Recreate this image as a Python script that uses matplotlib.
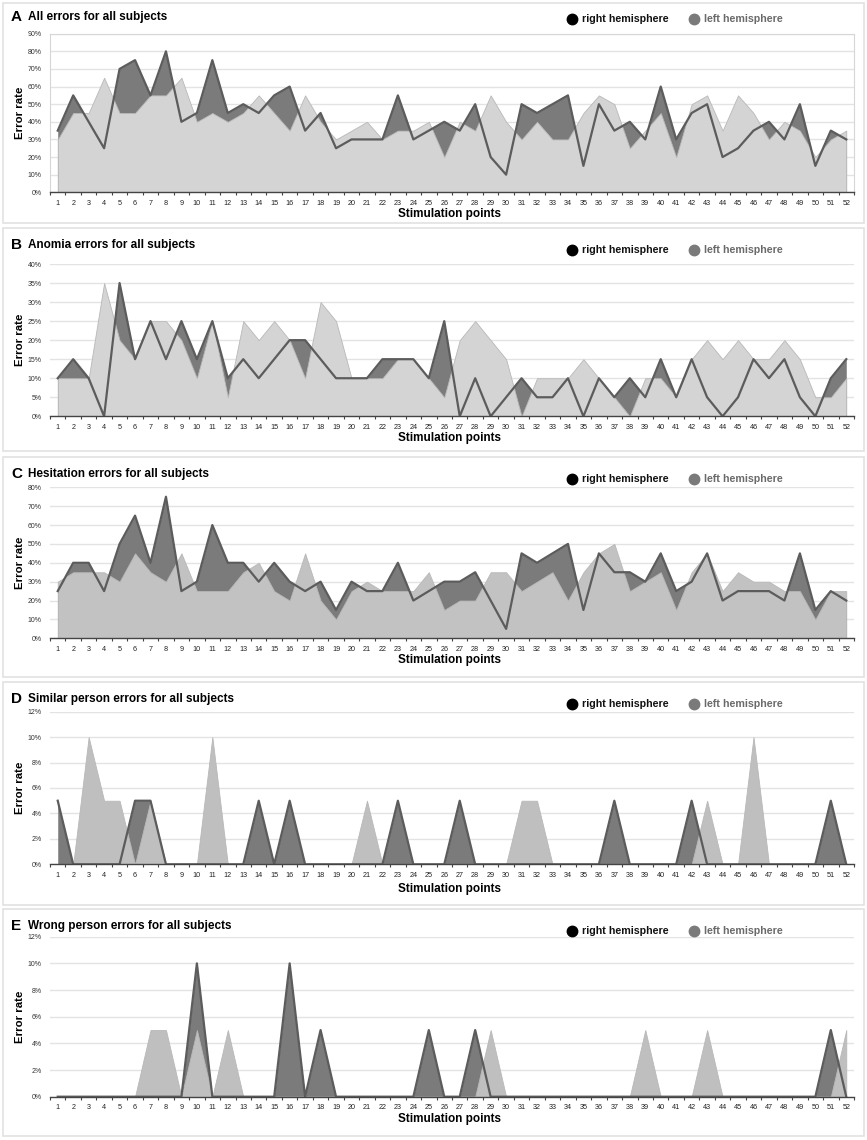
import numpy as np
import matplotlib
matplotlib.use("Agg")
import matplotlib.pyplot as plt
from matplotlib.patches import Rectangle
from matplotlib.lines import Line2D
from matplotlib.ticker import FixedLocator, FuncFormatter

plt.rcParams['font.family'] = ['Liberation Sans', 'DejaVu Sans']

points = np.arange(1, 53)

# error rates in %, one value per stimulation point
right_all = [35, 55, 40, 25, 70, 75, 55, 80, 40, 45, 75, 45, 50, 45, 55, 60, 35, 45, 25, 30,
             30, 30, 55, 30, 35, 40, 35, 50, 20, 10, 50, 45, 50, 55, 15, 50, 35, 40, 30, 60,
             30, 45, 50, 20, 25, 35, 40, 30, 50, 15, 35, 30]
left_all = [30, 45, 45, 65, 45, 45, 55, 55, 65, 40, 45, 40, 45, 55, 45, 35, 55, 40, 30, 35,
            40, 30, 35, 35, 40, 20, 40, 35, 55, 40, 30, 40, 30, 30, 45, 55, 50, 25, 35, 45,
            20, 50, 55, 35, 55, 45, 30, 40, 35, 20, 30, 35]

right_anomia = [10, 15, 10, 0, 35, 15, 25, 15, 25, 15, 25, 10, 15, 10, 15, 20, 20, 15, 10, 10,
                10, 15, 15, 15, 10, 25, 0, 10, 0, 5, 10, 5, 5, 10, 0, 10, 5, 10, 5, 15,
                5, 15, 5, 0, 5, 15, 10, 15, 5, 0, 10, 15]
left_anomia = [10, 10, 10, 35, 20, 15, 25, 25, 20, 10, 25, 5, 25, 20, 25, 20, 10, 30, 25, 10,
               10, 10, 15, 15, 10, 5, 20, 25, 20, 15, 0, 10, 10, 10, 15, 10, 5, 0, 10, 10,
               5, 15, 20, 15, 20, 15, 15, 20, 15, 5, 5, 10]

right_hes = [25, 40, 40, 25, 50, 65, 40, 75, 25, 30, 60, 40, 40, 30, 40, 30, 25, 30, 15, 30,
             25, 25, 40, 20, 25, 30, 30, 35, 20, 5, 45, 40, 45, 50, 15, 45, 35, 35, 30, 45,
             25, 30, 45, 20, 25, 25, 25, 20, 45, 15, 25, 20]
left_hes = [30, 35, 35, 35, 30, 45, 35, 30, 45, 25, 25, 25, 35, 40, 25, 20, 45, 20, 10, 25,
            30, 25, 25, 25, 35, 15, 20, 20, 35, 35, 25, 30, 35, 20, 35, 45, 50, 25, 30, 35,
            15, 35, 45, 25, 35, 30, 30, 25, 25, 10, 25, 25]

right_sim = [5, 0, 0, 0, 0, 5, 5, 0, 0, 0, 0, 0, 0, 5, 0, 5, 0, 0, 0, 0,
             0, 0, 5, 0, 0, 0, 5, 0, 0, 0, 0, 0, 0, 0, 0, 0, 5, 0, 0, 0,
             0, 5, 0, 0, 0, 0, 0, 0, 0, 0, 5, 0]
left_sim = [0, 0, 10, 5, 5, 0, 5, 0, 0, 0, 10, 0, 0, 0, 0, 0, 0, 0, 0, 0,
            5, 0, 0, 0, 0, 0, 0, 0, 0, 0, 5, 5, 0, 0, 0, 0, 0, 0, 0, 0,
            0, 0, 5, 0, 0, 10, 0, 0, 0, 0, 0, 0]

right_wrong = [0, 0, 0, 0, 0, 0, 0, 0, 0, 10, 0, 0, 0, 0, 0, 10, 0, 5, 0, 0,
               0, 0, 0, 0, 5, 0, 0, 5, 0, 0, 0, 0, 0, 0, 0, 0, 0, 0, 0, 0,
               0, 0, 0, 0, 0, 0, 0, 0, 0, 0, 5, 0]
left_wrong = [0, 0, 0, 0, 0, 0, 5, 5, 0, 5, 0, 5, 0, 0, 0, 0, 0, 0, 0, 0,
              0, 0, 0, 0, 0, 0, 0, 0, 5, 0, 0, 0, 0, 0, 0, 0, 0, 0, 5, 0,
              0, 0, 5, 0, 0, 0, 0, 0, 0, 0, 0, 5]

labels = ["A", "B", "C", "D", "E"]
titles = ["All errors for all subjects", "Anomia errors for all subjects",
          "Hesitation errors for all subjects", "Similar person errors for all subjects",
          "Wrong person errors for all subjects"]
ymaxes = [90, 40, 80, 12, 12]
ysteps = [10, 5, 10, 2, 2]
rights = [right_all, right_anomia, right_hes, right_sim, right_wrong]
lefts = [left_all, left_anomia, left_hes, left_sim, left_wrong]

# layout in pixels: panel box top/bottom, plot top/bottom
W, H = 867, 1140
boxes = [(3, 223), (228, 451), (457, 677), (682, 905), (909, 1136)]
plots = [(33.7, 192.3), (264, 416.3), (487.3, 638.3), (711.7, 864.3), (936.7, 1096.7)]
light_cols = ["#d4d4d4", "#d4d4d4", "#c2c2c2", "#bfbfbf", "#bfbfbf"]
dark_fill = "#7b7b7b"
dark_line = "#5c5c5c"

fig = plt.figure(figsize=(W / 100, H / 100), dpi=100)
px0, px1 = 50, 854

for i in range(5):
    bt, bb = boxes[i]
    fig.add_artist(Rectangle((3 / W, 1 - bb / H), 861 / W, (bb - bt) / H,
                             transform=fig.transFigure, fill=False,
                             edgecolor="#e2e2e2", lw=1.2))
    pt, pb = plots[i]
    ax = fig.add_axes([px0 / W, 1 - pb / H, (px1 - px0) / W, (pb - pt) / H])
    r = np.array(rights[i])
    l = np.array(lefts[i])
    ax.fill_between(points, r, 0, color=dark_fill, lw=0, zorder=2)
    ax.fill_between(points, l, 0, facecolor=light_cols[i], edgecolor="#b8b8b8",
                    lw=0.6, zorder=3)
    ax.plot(points, r, color=dark_line, lw=1.6, zorder=4)

    ax.set_xlim(0.5, 52.5)
    ax.set_ylim(0, ymaxes[i])
    ax.set_yticks(np.arange(0, ymaxes[i] + 0.1, ysteps[i]))
    ax.yaxis.set_major_formatter(FuncFormatter(lambda v, p: "%d%%" % round(v)))
    ax.grid(axis="y", color="#e3e3e3", lw=1, zorder=0)
    ax.set_axisbelow(True)
    ax.set_xticks(points)
    ax.set_xticklabels([str(p) for p in points])
    ax.xaxis.set_minor_locator(FixedLocator(np.arange(0.5, 53, 1)))
    ax.tick_params(axis="x", which="major", length=0, labelsize=5.2, pad=5.5, colors="#222")
    ax.tick_params(axis="x", which="minor", length=2.5, width=0.8, color="#444",
                   direction="out")
    ax.tick_params(axis="y", length=0, labelsize=5, pad=6, colors="#333")
    for s in ["left", "right", "top"]:
        if i == 0:
            ax.spines[s].set_color("#d6d6d6")
        else:
            ax.spines[s].set_visible(False)
    ax.spines["bottom"].set_color("#444")
    ax.spines["bottom"].set_linewidth(1.0)
    ax.spines["bottom"].set_zorder(5)
    ax.set_ylabel("Error rate", fontsize=8.2, fontweight="bold")
    ax.yaxis.set_label_coords(-25 / (px1 - px0), 0.5)

    # titles, axis label, legend
    ty = bt + (14 if i == 0 else 17)
    fig.text(11 / W, 1 - ty / H, labels[i], fontsize=11, fontweight="bold",
             va="center", ha="left")
    fig.text(28 / W, 1 - ty / H, titles[i], fontsize=8.5, fontweight="bold",
             va="center", ha="left")
    xl_y = pb + 22 if i != 3 else pb + 25
    fig.text(450 / W, 1 - xl_y / H, "Stimulation points", fontsize=8.5,
             fontweight="bold", ha="center", va="center")
    ly = bt + (16 if i == 0 else 22)
    fig.add_artist(Line2D([572 / W], [1 - ly / H], marker="o", markersize=7.5,
                          color="black", transform=fig.transFigure))
    fig.text(582 / W, 1 - ly / H, "right hemisphere", fontsize=7.7,
             fontweight="bold", va="center", ha="left", color="#111")
    fig.add_artist(Line2D([694 / W], [1 - ly / H], marker="o", markersize=7.5,
                          color="#7a7a7a", transform=fig.transFigure))
    fig.text(704 / W, 1 - ly / H, "left hemisphere", fontsize=7.7,
             fontweight="bold", va="center", ha="left", color="#6a6a6a")

fig.savefig("out.png", dpi=100)
